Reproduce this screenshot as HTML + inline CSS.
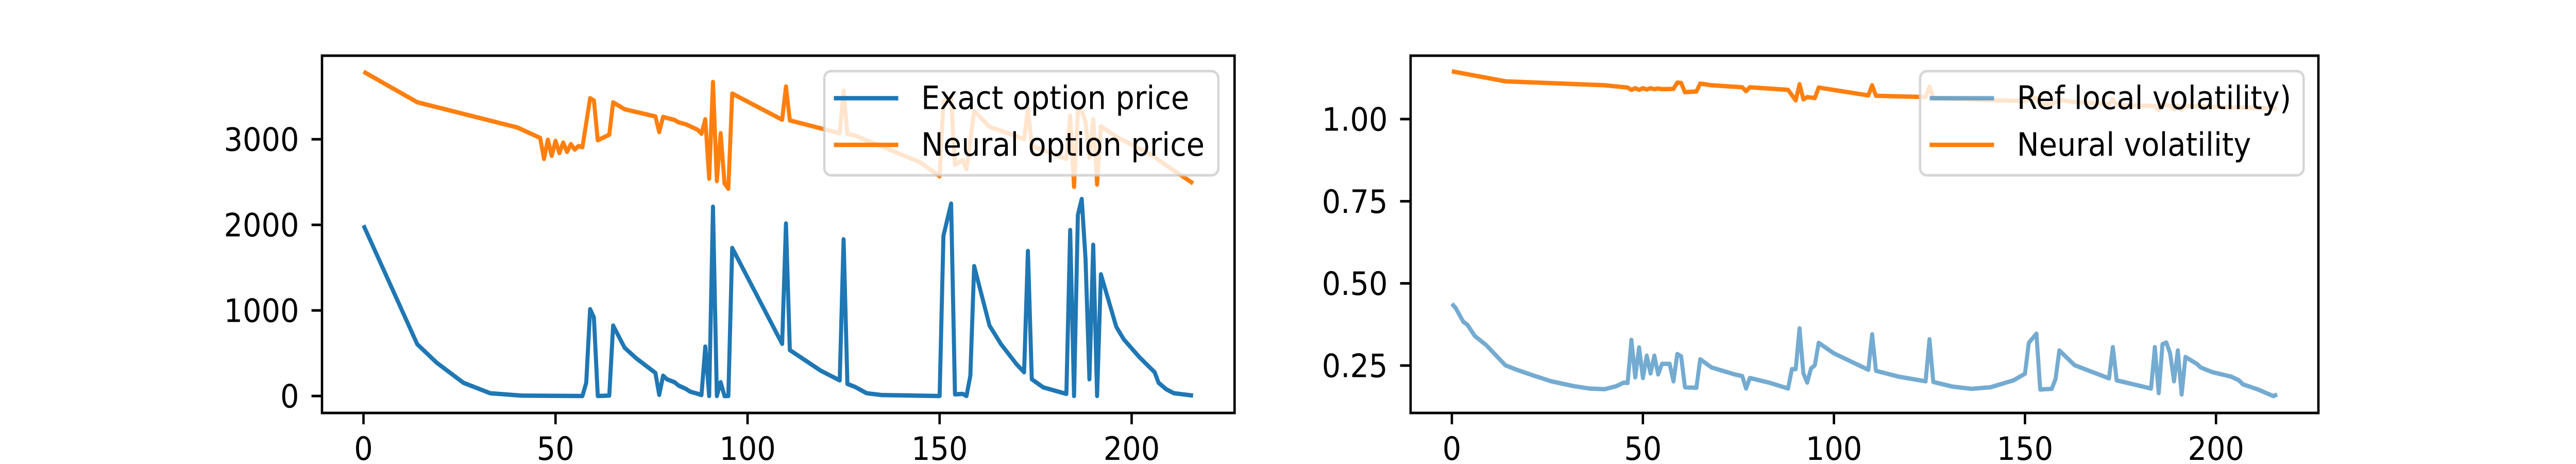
<!DOCTYPE html>
<html><head><meta charset="utf-8"><style>
html,body{margin:0;padding:0;background:#fff;overflow:hidden;width:100%;height:100%;}
svg{display:block;width:100vw;height:100vh;font-family:"DejaVu Sans","Liberation Sans",sans-serif;}
</style></head><body>
<svg id="fig" viewBox="0 0 5400 900" preserveAspectRatio="none" xmlns="http://www.w3.org/2000/svg">
<rect width="5400" height="900" fill="#fff"/>
<g id="left"></g>
<g id="right"></g>
</svg>
<script>
const xTicks = [0, 50, 100, 150, 200];
const priceTicks = [0, 1000, 2000, 3000];
const priceTickLabels = ["0", "1000", "2000", "3000"];
const volTicks = [0.25, 0.5, 0.75, 1.0];
const volTickLabels = ["0.25", "0.50", "0.75", "1.00"];

const exactIdx = [0,14,19,26,33,41,57,58,59,60,61,64,65,68,71,76,77,78,79,81,82,84,85,87,88,89,90,91,92,93,94,95,96,109,110,111,119,124,125,126,128,131,135,150,151,153,154,156,157,158,159,163,166,170,172,173,174,177,183,184,185,186,187,188,189,190,191,192,196,198,202,206,207,209,211,216];
const exactPrice = [1995,605,392,155,33,5,0,155,1014,918,0,5,823,564,441,270,14,237,196,161,123,82,52,27,11,578,0,2212,0,161,0,0,1730,610,2016,537,297,183,1831,142,106,33,11,0,1872,2248,19,25,0,237,1518,823,605,373,278,1695,196,101,25,1940,0,2117,2302,1599,196,1768,0,1422,809,659,455,278,155,79,33,5];

const neuralIdx = [0,14,40,46,47,48,49,50,51,52,53,54,55,56,57,59,60,61,64,65,68,76,77,78,81,82,84,87,88,89,90,91,92,93,94,95,96,109,110,111,124,125,126,128,145,150,151,153,154,156,157,159,163,172,173,174,183,184,185,186,187,188,189,190,191,192,196,206,207,216];
const neuralPrice = [3790,3433,3139,3016,2771,2995,2807,2981,2839,2962,2853,2943,2880,2921,2907,3480,3452,2989,3054,3431,3351,3267,3084,3262,3226,3199,3174,3112,3065,3234,2540,3670,2512,3071,2485,2422,3534,3229,3616,3221,3071,3567,3063,3044,2730,2567,3439,3493,2703,2757,2649,3330,3147,3003,3357,2921,2771,3275,2444,3330,3330,3207,2785,3234,2471,3153,3030,2798,2757,2485];

const refVolIdx = [0,1,3,4,6,9,14,17,21,26,32,36,40,43,45,46,47,48,49,50,51,52,53,54,55,57,58,59,60,61,64,65,68,74,76,77,78,83,88,89,90,91,92,93,94,95,96,100,109,110,111,117,124,125,126,131,136,141,147,150,151,153,154,157,158,159,163,172,173,174,183,184,185,186,187,188,189,190,191,192,195,196,199,204,206,207,211,215,216];
const refVol = [.438,.425,.383,.375,.340,.312,.251,.237,.221,.202,.187,.180,.178,.187,.198,.197,.328,.214,.305,.212,.280,.226,.280,.223,.255,.255,.202,.285,.278,.184,.182,.269,.244,.223,.218,.180,.212,.198,.180,.239,.239,.363,.226,.198,.241,.251,.319,.287,.237,.345,.234,.216,.202,.330,.200,.186,.179,.184,.205,.225,.319,.347,.177,.179,.209,.296,.251,.211,.306,.205,.180,.306,.166,.315,.320,.287,.202,.296,.162,.276,.255,.244,.230,.216,.205,.193,.177,.157,.162];

const neuralVolIdx = [0,14,40,46,47,48,49,50,51,52,53,54,55,58,59,60,61,64,65,68,76,77,78,88,90,91,92,93,95,96,109,110,111,124,125,126,140,150,151,153,154,157,159,163,172,173,174,184,185,186,188,189,190,191,192,200,216];
const neuralVol = [1.1455,1.115,1.103,1.096,1.089,1.094,1.089,1.094,1.090,1.094,1.091,1.093,1.091,1.092,1.111,1.110,1.082,1.084,1.108,1.103,1.097,1.085,1.097,1.089,1.057,1.106,1.060,1.067,1.064,1.096,1.072,1.103,1.071,1.067,1.099,1.064,1.058,1.055,1.060,1.065,1.045,1.045,1.058,1.052,1.045,1.060,1.043,1.040,1.028,1.045,1.040,1.030,1.040,1.028,1.040,1.037,1.032];

const NS = "http://www.w3.org/2000/svg";
function mk(parent, tag, attrs, text) {
  const e = document.createElementNS(NS, tag);
  for (const k in attrs) e.setAttribute(k, attrs[k]);
  if (text !== undefined) e.textContent = text;
  parent.appendChild(e);
  return e;
}

function drawPanel(g, box, yDomain, yTickVals, yTickText, series, legendBox, legendLabels) {
  const xDomain = [-10.8, 226.8];
  const sx = v => box.l + (v - xDomain[0]) / (xDomain[1] - xDomain[0]) * (box.r - box.l);
  const sy = v => box.b - (v - yDomain[0]) / (yDomain[1] - yDomain[0]) * (box.b - box.t);

  const lines = mk(g, "g", {});
  
  
  series.forEach(s => {
    const pts = s.idx.map((xi, i) => sx(xi).toFixed(1) + "," + sy(s.vals[i]).toFixed(1)).join(" ");
    const pl = mk(lines, "polyline", {points: pts, fill: "none", stroke: s.color, "stroke-width": 8.5, "stroke-opacity": s.alpha, "stroke-linejoin": "round", "stroke-linecap": "butt"});
    
    
  });

  const frame = mk(g, "rect", {x: box.l, y: box.t, width: box.r - box.l, height: box.b - box.t, fill: "none", stroke: "#000", "stroke-width": 5});
  
  

  const xAxis = mk(g, "g", {});
  
  
  xTicks.forEach(t => {
    const x = sx(t);
    mk(xAxis, "line", {x1: x, x2: x, y1: box.b, y2: box.b + 22, stroke: "#000", "stroke-width": 5});
    const lb = mk(xAxis, "text", {x: x, y: 892, "font-size": 62, "text-anchor": "middle", fill: "#000"}, String(t));
    
    
  });

  const yAxis = mk(g, "g", {});
  
  
  yTickVals.forEach((t, i) => {
    const y = sy(t);
    mk(yAxis, "line", {x1: box.l - 22, x2: box.l, y1: y, y2: y, stroke: "#000", "stroke-width": 5});
    const lb = mk(yAxis, "text", {x: box.l - 48, y: y + 22.5, "font-size": 62, "text-anchor": "end", fill: "#000"}, yTickText[i]);
    
    
  });

  const lg = mk(g, "g", {});
  
  
  mk(lg, "rect", {x: legendBox.l, y: 138, width: legendBox.r - legendBox.l, height: 202, rx: 14, fill: "#fff", "fill-opacity": 0.8, stroke: "#cccccc", "stroke-opacity": 0.8, "stroke-width": 5});
  const rowsY = [190.5, 281];
  series.forEach((s, i) => {
    const entry = mk(lg, "g", {});
    
    
    mk(entry, "line", {x1: legendBox.l + 20, x2: legendBox.l + 155, y1: rowsY[i], y2: rowsY[i], stroke: s.color, "stroke-width": 8.5, "stroke-opacity": s.alpha});
    mk(entry, "text", {x: legendBox.l + 203, y: rowsY[i] + 21, "font-size": 62, fill: "#000"}, legendLabels[i]);
  });
}

drawPanel(document.getElementById("left"), {l: 675, r: 2588, t: 108, b: 801},
  [-198, 3977], priceTicks, priceTickLabels,
  [{idx: exactIdx, vals: exactPrice, color: "#1f77b4", alpha: 1, name: "exact-option-price-line"},
   {idx: neuralIdx, vals: neuralPrice, color: "#ff7f0e", alpha: 1, name: "neural-option-price-line"}],
  {l: 1728, r: 2554}, ["Exact option price", "Neural option price"]);

drawPanel(document.getElementById("right"), {l: 2957, r: 4860, t: 108, b: 801},
  [0.25 - (801 - 709) / 637.3, 1.0 + (231 - 108) / 637.3], volTicks, volTickLabels,
  [{idx: refVolIdx, vals: refVol, color: "#1f77b4", alpha: 0.62, name: "ref-local-volatility-line"},
   {idx: neuralVolIdx, vals: neuralVol, color: "#ff7f0e", alpha: 1, name: "neural-volatility-line"}],
  {l: 4025, r: 4829}, ["Ref local volatility)", "Neural volatility"]);
</script>
</body></html>
